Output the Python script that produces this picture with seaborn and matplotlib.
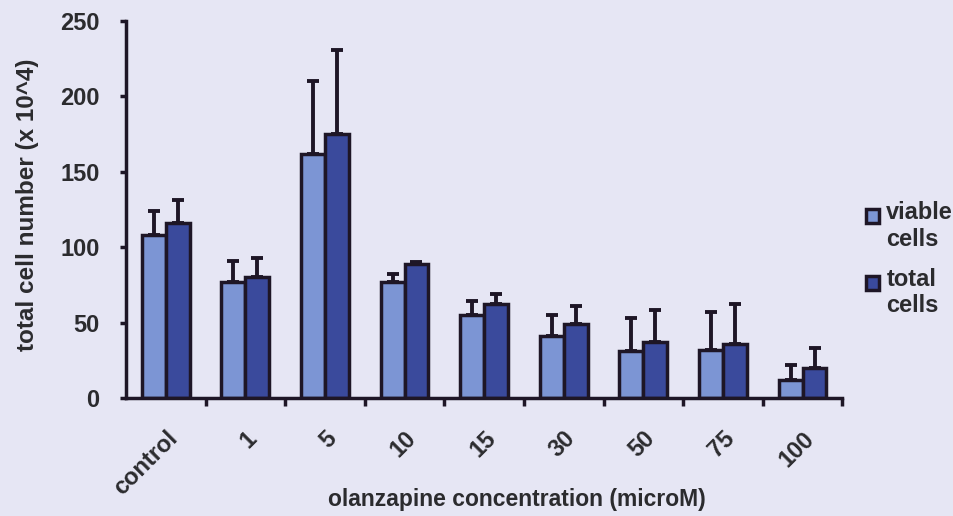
import numpy as np
import pandas as pd
import matplotlib
matplotlib.use("Agg")
import matplotlib.pyplot as plt
import seaborn as sb
from matplotlib.legend_handler import HandlerPatch

# values
concentrations = ["control", "1", "5", "10", "15", "30", "50", "75", "100"]
viable_cells = [108, 77, 162, 77, 55, 41, 31, 32, 12]
viable_err = [16, 14, 48, 5, 9, 14, 22, 25, 10]
total_cells = [116, 80, 175, 89, 62, 49, 37, 36, 20]
total_err = [15, 13, 56, 1, 7, 12, 21, 26, 13]
series_names = ["viable\ncells", "total\ncells"]

df = pd.DataFrame({
    "conc": concentrations * 2,
    "cells": viable_cells + total_cells,
    "err": viable_err + total_err,
    "series": [series_names[0]] * 9 + [series_names[1]] * 9,
})

bg = "#e6e6f4"
ink = "#1e1626"
txt = "#2b2b2e"
colors = ["#7c95d4", "#3a4a9c"]

sb.set_style("ticks")
plt.rcParams["font.family"] = ["Liberation Sans", "DejaVu Sans"]
plt.rcParams["font.weight"] = "bold"

fig = plt.figure(figsize=(9.54, 5.16), dpi=100)
fig.patch.set_facecolor(bg)
ax = fig.add_axes([0.132, 0.229, 0.751, 0.730])
ax.set_facecolor(bg)

sb.barplot(data=df, x="conc", y="cells", hue="series", order=concentrations,
           hue_order=series_names, palette=colors,
           width=0.6, errorbar=None, edgecolor=ink, linewidth=2.5,
           saturation=1, ax=ax, legend=False)

# one-sided error bars on top of each bar
for patches, errs in zip(ax.containers, [viable_err, total_err]):
    for p, e in zip(patches, errs):
        xc = p.get_x() + p.get_width() / 2
        h = p.get_height()
        ax.errorbar(xc, h, yerr=[[0], [e]], fmt="none", ecolor=ink,
                    elinewidth=2.8, capsize=4.5, capthick=2.8, zorder=1)

ax.set_xlim(-0.5, 8.5)
ax.set_ylim(0, 250)
ax.set_yticks(range(0, 251, 50))
ax.set_xticks(np.arange(len(concentrations)))
ax.set_xticklabels(concentrations, rotation=45, ha="right",
                   rotation_mode="anchor", fontsize=17, fontweight="bold",
                   color=txt)
ax.set_xticks(np.arange(0.5, 9, 1), minor=True)
ax.tick_params(axis="x", which="major", length=0, pad=21)
ax.tick_params(axis="x", which="minor", length=6, width=2.5, color=ink,
               direction="out")
ax.tick_params(axis="y", length=4, width=2.5, color=ink, labelsize=17,
               labelcolor=txt, pad=15)
for lbl in ax.get_yticklabels():
    lbl.set_fontweight("bold")

for s in ["top", "right"]:
    ax.spines[s].set_visible(False)
for s in ["left", "bottom"]:
    ax.spines[s].set_linewidth(2.5)
    ax.spines[s].set_color(ink)

ax.set_xlabel("olanzapine concentration (microM)", fontsize=16.5,
              fontweight="bold", color=txt)
ax.xaxis.set_label_coords(0.546, -0.239)
ax.set_ylabel("total cell number (x 10^4)", fontsize=17.5,
              fontweight="bold", color=txt)
ax.yaxis.set_label_coords(-0.121, 0.513)


def top_square(legend=None, orig_handle=None, xdescent=0, ydescent=0,
               width=1, height=1, fontsize=10):
    # put the square beside the first line of the two-line label
    return plt.Rectangle((-xdescent, -ydescent + 0.45 * fontsize), width, height)


handles = [plt.Rectangle((0, 0), 1, 1, facecolor=c, edgecolor=ink,
                         linewidth=2.5) for c in colors]
fig.legend(handles, series_names, loc="upper left",
           bbox_to_anchor=(0.908, 0.61), frameon=False,
           prop={"size": 17, "weight": "bold"}, labelcolor=txt,
           handlelength=0.55, handleheight=0.55, handletextpad=0.3,
           labelspacing=0.72, borderaxespad=0, borderpad=0,
           handler_map={plt.Rectangle: HandlerPatch(patch_func=top_square)})

fig.savefig("out.png", dpi=100, facecolor=bg)
